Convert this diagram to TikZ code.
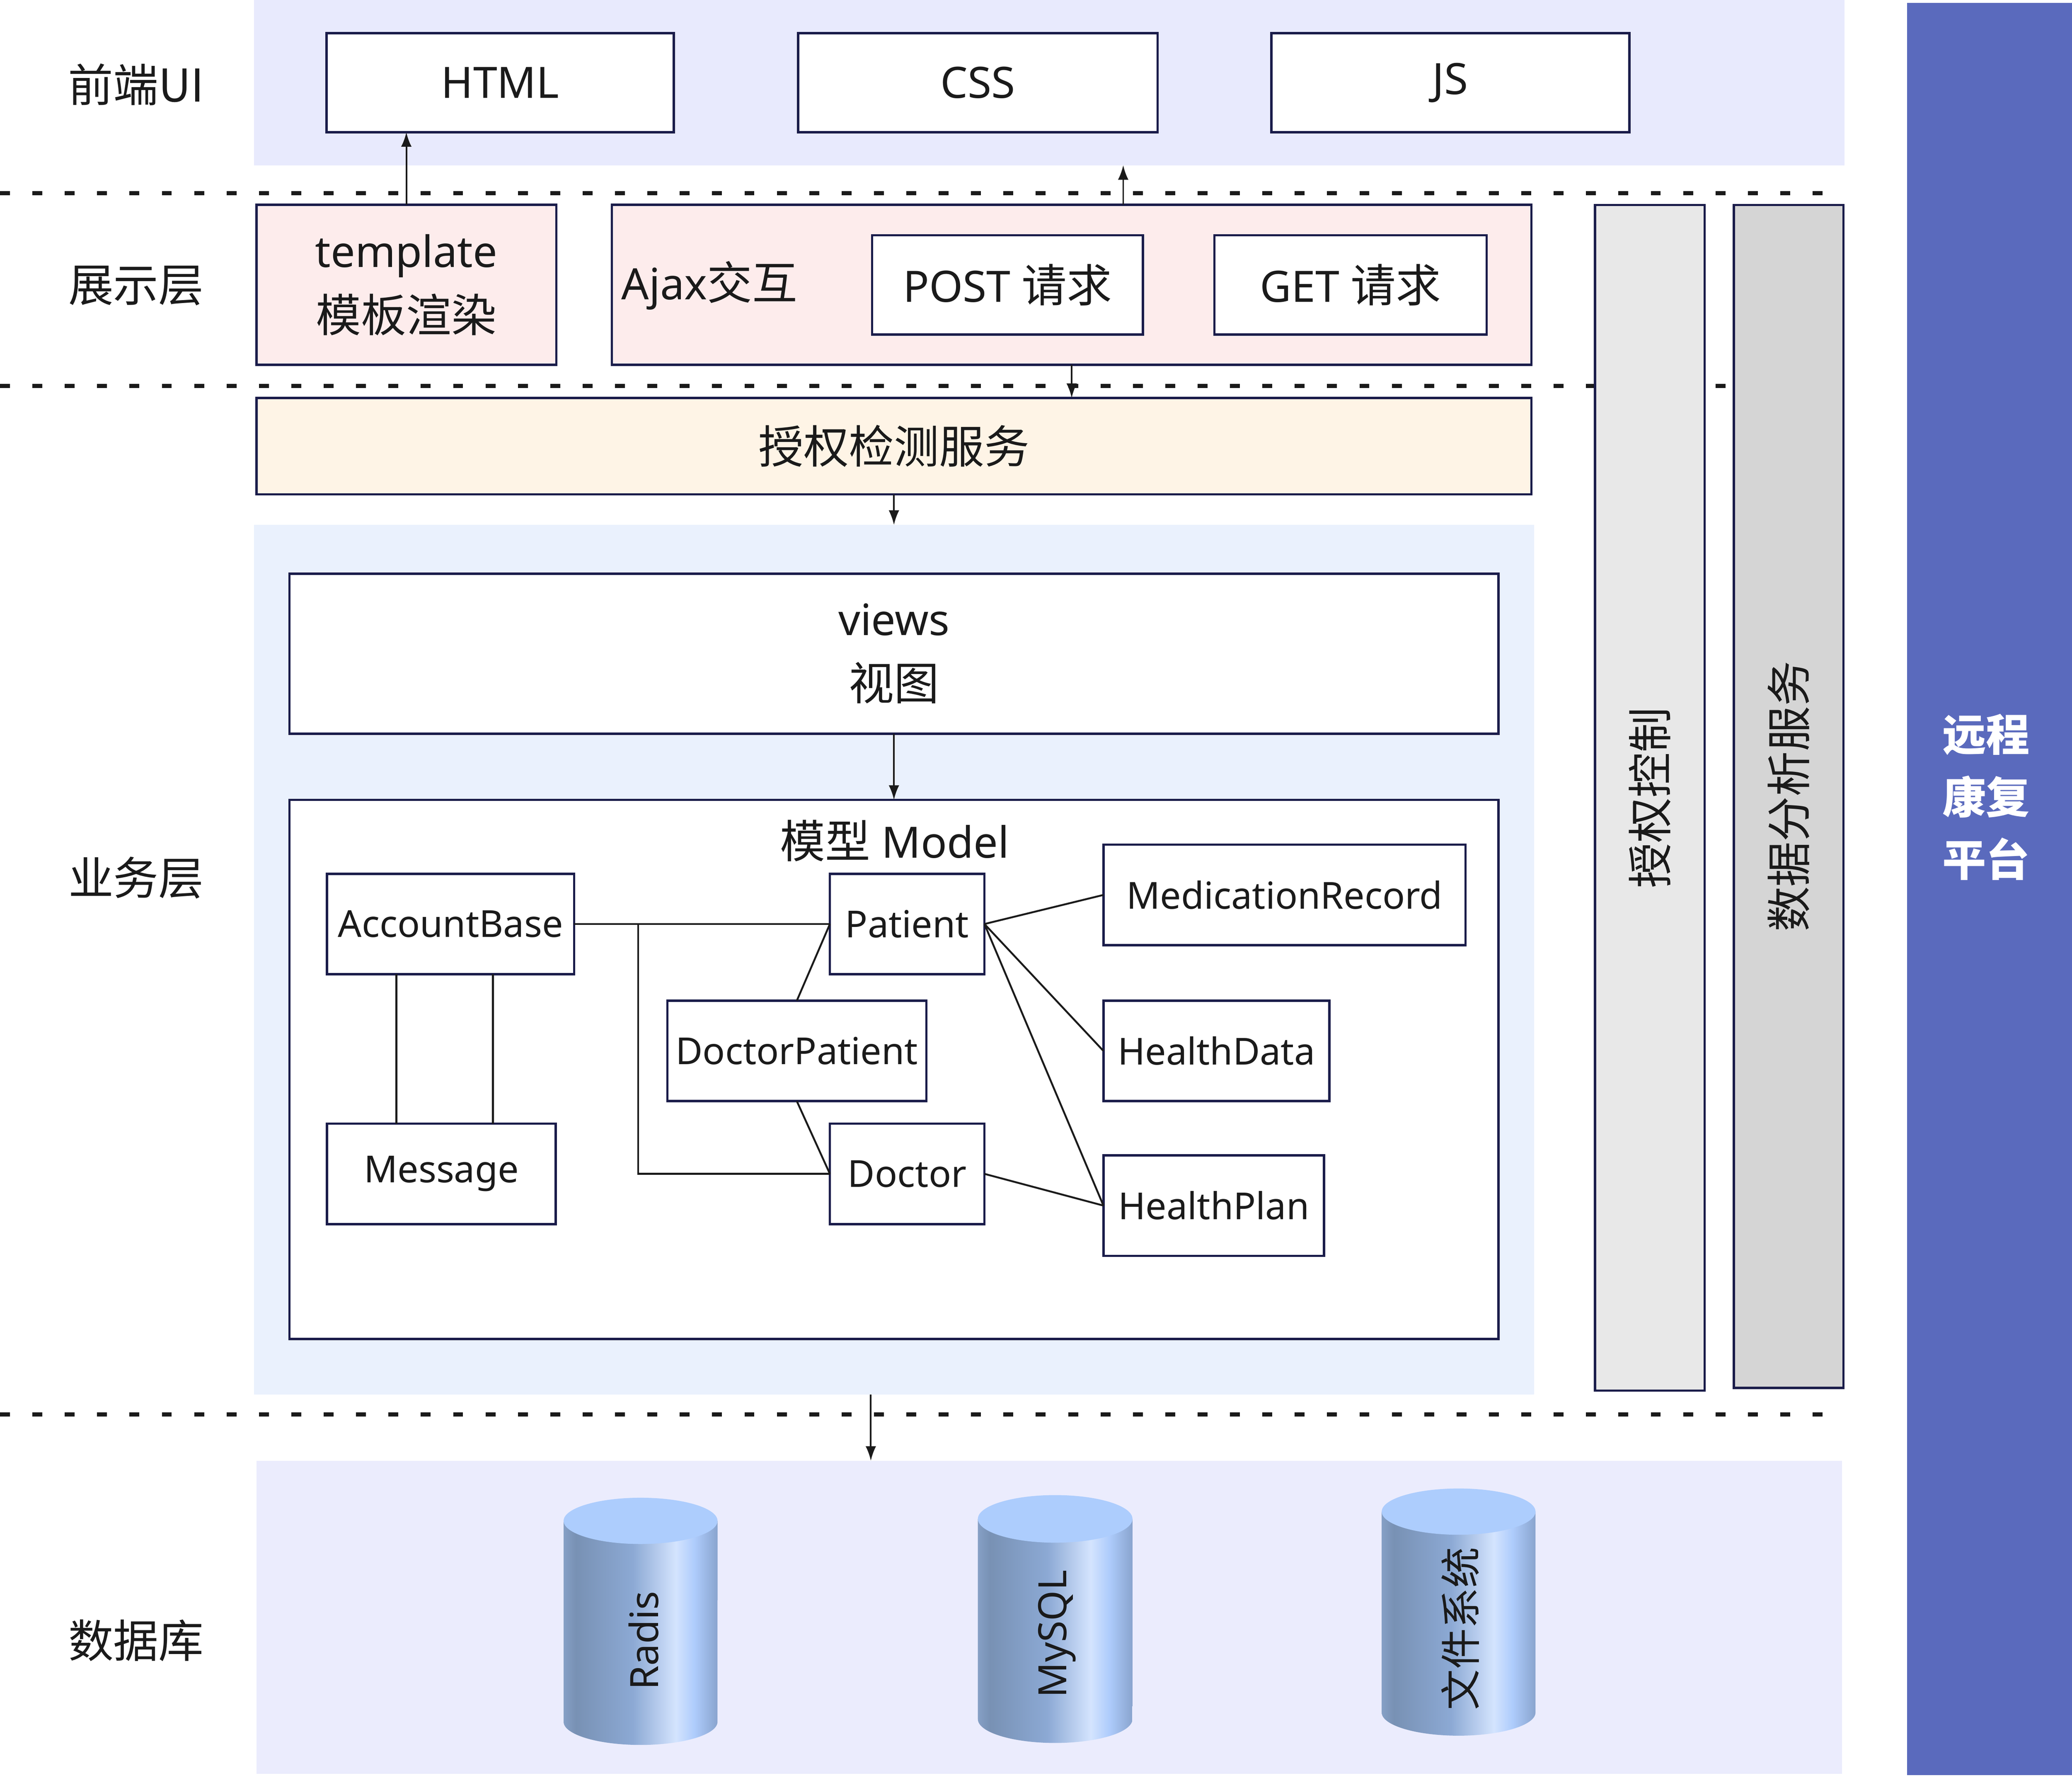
\documentclass[tikz,border=0pt]{standalone}
\usepackage{fontspec}
\setmainfont{Noto Sans}
\newfontfamily\cjk{Noto Sans CJK SC}[Scale=1.045]
\usepackage{tikz}
\usetikzlibrary{arrows.meta}

\definecolor{ink}{HTML}{1A1A1A}
\definecolor{edge}{HTML}{1A1C4A}
\definecolor{uibg}{HTML}{E8EAFD}
\definecolor{bizbg}{HTML}{EAF1FD}
\definecolor{dbbg}{HTML}{EBECFD}
\definecolor{pinkbg}{HTML}{FDECEC}
\definecolor{authbg}{HTML}{FEF4E6}
\definecolor{barA}{HTML}{E8E8E8}
\definecolor{barB}{HTML}{D5D5D5}
\definecolor{platbg}{HTML}{5A6ABD}
\definecolor{cylA}{HTML}{86A0C6}
\definecolor{cylB}{HTML}{7891B4}
\definecolor{cylC}{HTML}{8CA9D4}
\definecolor{cylD}{HTML}{D4E4FE}
\definecolor{cylE}{HTML}{AECCFC}
\definecolor{cylF}{HTML}{89A4CE}
\definecolor{cyltop}{HTML}{ADCDFD}
\pgfdeclarehorizontalshading{cylshade}{100bp}{color(0bp)=(cylA); color(25bp)=(cylA); color(29bp)=(cylB); color(47.5bp)=(cylC); color(61.5bp)=(cylD); color(67.5bp)=(cylE); color(75bp)=(cylF); color(100bp)=(cylF)}

\newcommand{\lyrfont}{\fontsize{18.6pt}{27.8pt}\selectfont}
\newcommand{\mdlfont}{\fontsize{16pt}{20pt}\selectfont}
\newcommand{\dbfont}{\fontsize{16.8pt}{20pt}\selectfont}
\newcommand{\platfont}{\fontsize{18pt}{26.9pt}\selectfont}

\begin{document}
\begin{tikzpicture}[x=0.02cm,y=-0.02cm]
    \tikzstyle{band}=[rectangle,inner sep=0,outer sep=0]
    \tikzstyle{box}=[rectangle,draw=edge,line width=1pt,fill=white,inner sep=0,outer sep=0,align=center,font=\lyrfont,text=ink]
    \tikzstyle{mbox}=[box,font=\mdlfont,minimum height=1.52cm]
    \tikzstyle{lyr}=[font=\lyrfont\cjk,text=ink]
    \tikzstyle{sepline}=[line width=1.8pt,dash pattern=on 0.15cm off 0.34cm,draw=ink]
    \tikzstyle{flow}=[-{Latex[length=0.22cm,width=0.16cm]},line width=0.7pt,draw=ink]
    \tikzstyle{rel}=[line width=0.8pt,draw=ink]
    \tikzstyle{cyl}=[shading=cylshade]
    \useasboundingbox (0,0) rectangle (1568,1345);
    \node[band,fill=uibg,minimum width=24.08cm,minimum height=2.5cm] (uiband) at (794,62.5) {};
    \node[band,fill=bizbg,minimum width=19.38cm,minimum height=13.16cm] (bizband) at (676.5,726) {};
    \node[band,fill=dbbg,minimum width=24cm,minimum height=4.74cm] (dbband) at (794,1223.5) {};
    \draw[sepline] (0,146) -- (1396,146);
    \draw[sepline] (0,292) -- (1396,292);
    \draw[sepline] (0,1070) -- (1396,1070);
    \node[lyr] (uilbl) at (103,64) {前端UI};
    \node[lyr] (showlbl) at (103,216) {展示层};
    \node[lyr] (bizlbl) at (103,664) {业务层};
    \node[lyr] (dblbl) at (103,1241) {数据库};
    \node[box,minimum width=5.26cm,minimum height=1.5cm] (html) at (378.5,62.5) {HTML};
    \node[box,minimum width=5.44cm,minimum height=1.5cm] (css) at (740,62.5) {CSS};
    \node[box,minimum width=5.42cm,minimum height=1.5cm] (js) at (1097.5,62.5) {JS};
    \node[box,fill=pinkbg,minimum width=4.54cm,minimum height=2.42cm] (tmpl) at (307.5,215.5) {template\\{\cjk 模板渲染}};
    \node[box,fill=pinkbg,minimum width=13.92cm,minimum height=2.42cm] (ajax) at (811,215.5) {};
    \node[font=\lyrfont,text=ink,anchor=west,inner sep=0] (ajaxlbl) at (470,216) {Ajax{\cjk 交互}};
    \node[box,minimum width=4.1cm,minimum height=1.5cm] (post) at (762.5,215.5) {POST {\cjk 请求}};
    \node[box,minimum width=4.12cm,minimum height=1.5cm] (get) at (1022,215.5) {GET {\cjk 请求}};
    \node[box,fill=authbg,minimum width=19.3cm,minimum height=1.46cm,font=\lyrfont\cjk] (auth) at (676.5,337.5) {授权检测服务};
    \node[box,minimum width=18.3cm,minimum height=2.42cm] (views) at (676.5,494.5) {views\\{\cjk 视图}};
    \node[box,minimum width=18.3cm,minimum height=8.16cm] (model) at (676.5,809) {};
    \node[font=\lyrfont,text=ink] (mtitle) at (677,636) {{\cjk 模型} Model};
    \node[mbox,minimum width=3.74cm] (acct) at (341,699) {AccountBase};
    \node[mbox,minimum width=2.34cm] (patient) at (686.5,699) {Patient};
    \node[mbox,minimum width=5.48cm] (medrec) at (972,677) {MedicationRecord};
    \node[mbox,minimum width=3.92cm] (docpat) at (603,795) {DoctorPatient};
    \node[mbox,minimum width=3.42cm] (hdata) at (920.5,795) {HealthData};
    \node[mbox,minimum width=3.46cm] (msg) at (334,888) {Message};
    \node[mbox,minimum width=2.34cm] (doctor) at (686.5,888) {Doctor};
    \node[mbox,minimum width=3.34cm] (hplan) at (918.5,912) {HealthPlan};
    \draw[rel] (acct.east) -- (patient.west);
    \draw[rel] ([xshift=0.97cm]acct.east) |- (doctor.west);
    \draw[rel] ([xshift=-0.82cm]acct.south) -- ([xshift=-0.82cm]acct.south |- msg.north);
    \draw[rel] ([xshift=0.64cm]acct.south) -- ([xshift=0.64cm]acct.south |- msg.north);
    \draw[rel] (patient.west) -- (docpat.north);
    \draw[rel] (docpat.south) -- (doctor.west);
    \draw[rel] (patient.east) -- (medrec.west);
    \draw[rel] (patient.east) -- (hdata.west);
    \draw[rel] (patient.east) -- (hplan.west);
    \draw[rel] (doctor.east) -- (hplan.west);
    \node[box,fill=barA,rotate=90,minimum width=17.94cm,minimum height=1.66cm,font=\lyrfont\cjk] (authbar) at (1248.5,603.5) {授权控制};
    \node[box,fill=barB,rotate=90,minimum width=17.9cm,minimum height=1.66cm,font=\lyrfont\cjk] (databar) at (1353.5,602.5) {数据分析服务};
    \node[band,fill=platbg,minimum width=2.5cm,minimum height=26.82cm] (plat) at (1505.5,672.5) {};
    \node[font=\platfont\cjk\bfseries,text=white,align=center] (platlbl) at (1503,603) {远程\\康复\\平台};
    \draw[flow] (tmpl.north) -- (tmpl.north |- html.south);
    \draw[flow] ([xshift=0.78cm]ajax.north) -- ([xshift=0.78cm]ajax.north |- uiband.south);
    \draw[flow] (ajax.south) -- (ajax.south |- auth.north);
    \draw[flow] (auth.south) -- (bizband.north);
    \draw[flow] (views.south) -- (model.north);
    \draw[flow] ([xshift=-0.35cm]bizband.south) -- ([xshift=-0.35cm]bizband.south |- dbband.north);
    \shade[cyl] (426.5,1150.5) -- (426.5,1302.5) arc[start angle=180,end angle=360,x radius=1.165cm,y radius=0.35cm] -- (543,1150.5) -- cycle;
    \fill[cyltop] (484.75,1150.5) ellipse [x radius=1.165cm,y radius=0.35cm];
    \shade[cyl] (740,1149) -- (740,1300.5) arc[start angle=180,end angle=360,x radius=1.17cm,y radius=0.36cm] -- (857,1149) -- cycle;
    \fill[cyltop] (798.5,1149) ellipse [x radius=1.17cm,y radius=0.36cm];
    \shade[cyl] (1045.6,1143.5) -- (1045.6,1295.5) arc[start angle=180,end angle=360,x radius=1.164cm,y radius=0.35cm] -- (1162,1143.5) -- cycle;
    \fill[cyltop] (1103.8,1143.5) ellipse [x radius=1.164cm,y radius=0.35cm];
    \node[font=\dbfont,text=ink,rotate=90] (rdslbl) at (487,1241) {Radis};
    \node[font=\dbfont,text=ink,rotate=90] (sqllbl) at (800,1236) {MySQL};
    \node[font=\dbfont\cjk,text=ink,rotate=90] (fslbl) at (1105,1232) {文件系统};
\end{tikzpicture}
\end{document}
